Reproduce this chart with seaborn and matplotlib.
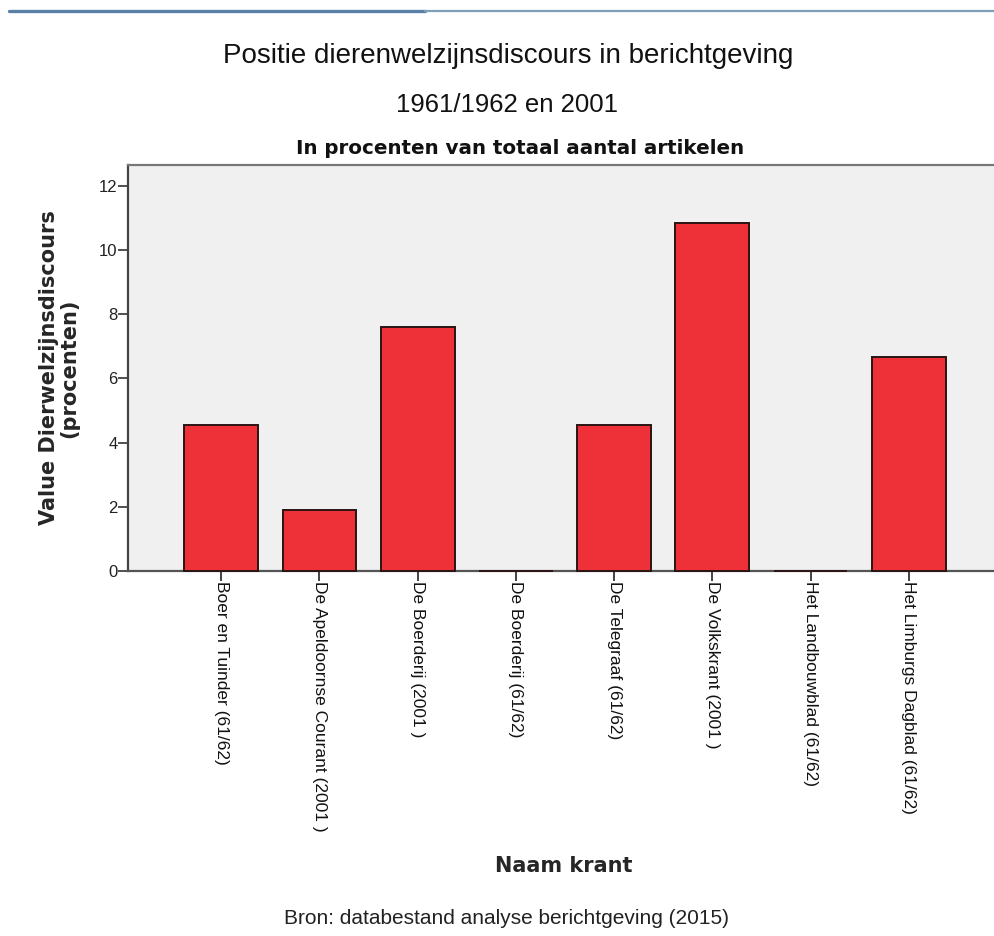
import matplotlib
matplotlib.use('Agg')
import matplotlib.pyplot as plt
from matplotlib.lines import Line2D
import seaborn as sns
import pandas as pd

# ── data ──
kranten = [
    "Boer en Tuinder (61/62)",
    "De Apeldoornse Courant (2001 )",
    "De Boerderij (2001 )",
    "De Boerderij (61/62)",
    "De Telegraaf (61/62)",
    "De Volkskrant (2001 )",
    "Het Landbouwblad (61/62)",
    "Het Limburgs Dagblad (61/62)",
]
procenten = [4.55, 1.89, 7.61, 0.0, 4.55, 10.85, 0.0, 6.67]
y_ticks = [0, 2, 4, 6, 8, 10, 12]

df = pd.DataFrame({"krant": kranten, "waarde": procenten})

sns.set_theme(style="white")
plt.rcParams['font.family'] = ['Liberation Sans', 'DejaVu Sans']
WIDE = ['DejaVu Sans', 'Liberation Sans']

W, H = 995, 936
fig = plt.figure(figsize=(W / 100, H / 100), dpi=100)
fig.patch.set_facecolor("white")

# plot area (pixel box -> figure fraction)
x0, x1, ytop, ybot = 128, 1002, 165, 571
ax = fig.add_axes([x0 / W, 1 - ybot / H, (x1 - x0) / W, (ybot - ytop) / H])
ax.set_facecolor("#f0f0f0")

sns.barplot(data=df, x="krant", y="waarde", color="#ee3038", saturation=1,
            width=0.75, edgecolor="#2a1414", linewidth=1.4, ax=ax)
for p in ax.patches:
    p.set_zorder(3)
    p.set_clip_on(False)

ax.set_xlim(-0.95, 7.95)
ax.set_ylim(0, 12.65)
ax.set_yticks(y_ticks)
ax.set_yticklabels([str(t) for t in y_ticks], fontsize=12, color="#222222")
ax.set_xticks(range(len(kranten)))
ax.set_xticklabels(kranten, rotation=270, fontsize=12.5, color="#111111",
                   va="top", ha="center")

ax.tick_params(axis="y", direction="out", length=7, width=1.2, color="#333333",
               left=True, pad=0.5)
ax.tick_params(axis="x", direction="out", length=7.5, width=1.2, color="#222222",
               bottom=True, pad=0)

for side in ["left", "bottom", "top"]:
    ax.spines[side].set_visible(True)
    ax.spines[side].set_linewidth(1.6)
ax.spines["left"].set_color("#444444")
ax.spines["bottom"].set_color("#555555")
ax.spines["top"].set_color("#777777")
ax.spines["right"].set_visible(False)

ax.set_xlabel("Naam krant", fontsize=15, fontweight="bold", family=WIDE,
              va="baseline")
ax.xaxis.set_label_coords((564 - x0) / (x1 - x0), -(872 - ybot) / (ybot - ytop))
ax.set_ylabel("Value Dierwelzijnsdiscours\n(procenten)", fontsize=15,
              fontweight="bold", family=WIDE, linespacing=1.05, va="center")
ax.yaxis.set_label_coords(-(x0 - 59) / (x1 - x0), 0.5)

# titels
fig.text(508 / W, 1 - 63 / H, "Positie dierenwelzijnsdiscours in berichtgeving",
         ha="center", va="baseline", fontsize=20, color="#111111")
fig.text(507 / W, 1 - 112 / H, "1961/1962 en 2001",
         ha="center", va="baseline", fontsize=18.5, color="#111111")
fig.text(520 / W, 1 - 154 / H, "In procenten van totaal aantal artikelen",
         ha="center", va="baseline", fontsize=14.3, fontweight="bold",
         family=WIDE, color="#111111")
fig.text(507 / W, 1 - 924 / H, "Bron: databestand analyse berichtgeving (2015)",
         ha="center", va="baseline", fontsize=15, color="#222222")

# blauwe lijn bovenaan
fig.add_artist(Line2D([9 / W, 425 / W], [1 - 11 / H, 1 - 11 / H],
                      color="#5b7fa6", linewidth=2.4))
fig.add_artist(Line2D([425 / W, 1.0], [1 - 11 / H, 1 - 11 / H],
                      color="#7d9fb9", linewidth=1.6))

fig.savefig("out.png", dpi=100, facecolor="white")
